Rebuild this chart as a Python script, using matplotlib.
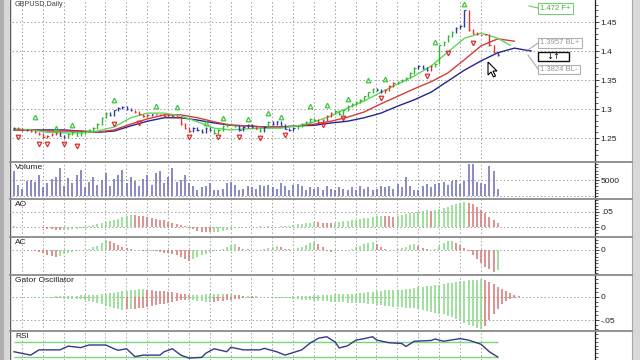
import numpy as np
import matplotlib
matplotlib.use('Agg')
import matplotlib.pyplot as plt
from matplotlib.ticker import FixedLocator, FixedFormatter, MultipleLocator
from matplotlib.patches import Rectangle, Polygon
from matplotlib.lines import Line2D

plt.rcParams['font.family'] = ['Liberation Sans', 'DejaVu Sans']

# ---------------- data ----------------
close = [1.267, 1.266, 1.264, 1.264, 1.262, 1.260, 1.257, 1.252, 1.254, 1.257,
         1.259, 1.254, 1.252, 1.257, 1.260, 1.254, 1.259, 1.262, 1.264, 1.267,
         1.274, 1.285, 1.293, 1.290, 1.298, 1.302, 1.304, 1.300, 1.298, 1.295,
         1.291, 1.288, 1.290, 1.291, 1.291, 1.290, 1.288, 1.290, 1.288, 1.285,
         1.274, 1.267, 1.262, 1.267, 1.264, 1.260, 1.267, 1.264, 1.259, 1.264,
         1.271, 1.274, 1.273, 1.271, 1.264, 1.269, 1.273, 1.269, 1.266, 1.262,
         1.269, 1.278, 1.274, 1.279, 1.273, 1.266, 1.264, 1.267, 1.271, 1.274,
         1.278, 1.283, 1.281, 1.278, 1.281, 1.288, 1.293, 1.297, 1.291, 1.298,
         1.305, 1.309, 1.312, 1.316, 1.322, 1.329, 1.335, 1.333, 1.329, 1.333,
         1.340, 1.345, 1.347, 1.350, 1.354, 1.362, 1.371, 1.374, 1.371, 1.367,
         1.374, 1.378, 1.410, 1.416, 1.426, 1.433, 1.440, 1.443, 1.470, 1.436,
         1.431, 1.429, 1.428, 1.429, 1.410, 1.398, 1.393]

jaw_idx = list(range(0, 125, 4))
jaw = [1.264, 1.264, 1.264, 1.264, 1.262, 1.260, 1.262, 1.271, 1.279, 1.285,
       1.285, 1.281, 1.276, 1.272, 1.271, 1.269, 1.269, 1.271, 1.272, 1.276,
       1.279, 1.285, 1.293, 1.305, 1.316, 1.329, 1.348, 1.367, 1.383, 1.397,
       1.405, 1.400]
teeth_idx = list(range(0, 121, 4))
teeth = [1.264, 1.264, 1.262, 1.262, 1.262, 1.260, 1.264, 1.274, 1.283, 1.290,
         1.290, 1.285, 1.278, 1.272, 1.271, 1.269, 1.269, 1.271, 1.274, 1.279,
         1.286, 1.295, 1.309, 1.322, 1.335, 1.347, 1.362, 1.385, 1.409, 1.421,
         1.417]
lips_idx = list(range(0, 117, 4)) + [119]
lips = [1.266, 1.264, 1.260, 1.259, 1.259, 1.262, 1.269, 1.285, 1.293, 1.293,
        1.288, 1.278, 1.267, 1.264, 1.266, 1.267, 1.267, 1.271, 1.278, 1.288,
        1.302, 1.314, 1.329, 1.343, 1.357, 1.374, 1.398, 1.422, 1.431, 1.422,
        1.410]

frac_up_idx = [5, 10, 14, 24, 34, 39, 46, 50, 56, 61, 64, 71, 75, 80, 85, 89, 101, 108]
frac_up = [1.286, 1.267, 1.273, 1.316, 1.305, 1.304, 1.276, 1.285, 1.283, 1.293,
           1.286, 1.305, 1.307, 1.317, 1.350, 1.352, 1.416, 1.481]
frac_dn_idx = [1, 6, 8, 12, 15, 24, 30, 42, 49, 54, 59, 65, 74, 79, 88, 99, 104, 110]
frac_dn = [1.252, 1.240, 1.240, 1.240, 1.236, 1.274, 1.276, 1.252, 1.252, 1.252,
           1.250, 1.255, 1.273, 1.285, 1.319, 1.357, 1.397, 1.414]

volume = [8000, 3300, 2300, 4700, 5000, 4300, 6700, 2700, 4000, 5300,
          6000, 8700, 3000, 5700, 4000, 6700, 8300, 2700, 4300, 6000,
          3300, 5000, 7300, 3000, 5300, 6700, 8300, 4000, 6000, 4700,
          3000, 5300, 6700, 3300, 7300, 8000, 4000, 6000, 8700, 4300,
          5000, 6700, 4000, 3000, 2000, 2700, 3000, 4000, 2000, 1700,
          2300, 4000, 4300, 3300, 2000, 2300, 3000, 2700, 2300, 3300,
          3000, 3300, 2700, 2300, 4000, 3000, 2000, 3300, 3700, 3000,
          2000, 2700, 2300, 2700, 2000, 3000, 2300, 2000, 2700, 2300,
          2000, 2700, 2000, 3000, 2300, 2700, 2000, 2300, 3000, 2700,
          3000, 2300, 3700, 2700, 6000, 3000, 2000, 1700, 3000, 3700,
          2700, 3700, 4000, 4300, 3300, 4700, 5000, 3700, 4700, 10000,
          10000, 4300, 4000, 3700, 9300, 8000, 2300]

ao_milli = [2, 1, 0, 1, 1, 0, -1, -3, -6, -8,
            -9, -10, -10, -9, -8, -6, -4, -2, 3, 8,
            10, 13, 16, 20, 24, 28, 32, 36, 41, 39,
            37, 35, 33, 31, 28, 25, 22, 18, 14, 10,
            6, 2, -3, -8, -12, -15, -17, -18, -17, -15,
            -12, -9, -6, -4, -2, -1, 0, 1, 1, 2,
            1, 2, 1, 1, 2, 3, 5, 7, 9, 11,
            13, 15, 17, 16, 15, 14, 13, 15, 17, 19,
            21, 23, 25, 27, 29, 31, 33, 35, 37, 36,
            35, 34, 36, 39, 42, 45, 48, 51, 53, 55,
            52, 56, 60, 64, 68, 72, 76, 80, 82, 81,
            75, 66, 56, 45, 34, 22, 12]

ac_milli = [1, 0, 0, -1, -1, -2, -5, -9, -14, -19,
            -21, -17, -13, -9, -6, -3, -1, 0, 3, 8,
            12, 20, 30, 28, 22, 16, 10, 6, 3, 1,
            -1, -2, -3, -2, -4, -6, -8, -10, -12, -14,
            -20, -27, -33, -28, -22, -16, -11, -7, -3, -1,
            2, 8, 14, 18, 10, 4, 2, 1, 0, 1,
            3, 5, 9, 13, 8, 4, 2, 0, 5, 10,
            15, 20, 24, 18, 10, -4, -6, -3, -1, 0,
            1, 3, 8, 13, 18, 22, 24, 18, 10, 4,
            1, 0, 2, 6, 10, 14, 18, 12, 6, 2,
            0, 4, 12, 20, 26, 28, 22, 14, 6, -2,
            -15, -28, -40, -50, -58, -65, -60]

gator_up_milli = [0, 0, 0, 0, 0, 0, 1, 1, 1, 1,
                  2, 2, 3, 3, 3, 3, 4, 4, 4, 5,
                  5, 6, 7, 8, 9, 11, 13, 14, 15, 16,
                  17, 17, 16, 15, 14, 13, 12, 11, 10, 9,
                  7, 6, 5, 5, 5, 5, 6, 6, 7, 7,
                  7, 6, 6, 5, 4, 3, 3, 2, 2, 1,
                  1, 1, 1, 1, 1, 1, 1, 2, 2, 3,
                  3, 3, 4, 4, 5, 5, 5, 6, 6, 6,
                  6, 7, 7, 8, 9, 10, 11, 13, 14, 15,
                  15, 15, 16, 16, 17, 18, 19, 21, 22, 23,
                  24, 25, 27, 28, 30, 31, 33, 34, 35, 36,
                  37, 38, 39, 37, 33, 28, 22, 17, 12, 8,
                  5, 3]
gator_dn_milli = [0, 0, -1, -1, -1, -2, -2, -2, -3, -3,
                  -3, -3, -4, -4, -4, -5, -5, -6, -8, -10,
                  -13, -16, -19, -22, -25, -27, -28, -27, -27, -26,
                  -25, -24, -22, -20, -18, -16, -15, -13, -11, -9,
                  -7, -6, -6, -7, -8, -9, -10, -11, -10, -9,
                  -8, -7, -6, -5, -4, -3, -3, -2, -2, -1,
                  -1, -1, -2, -2, -2, -3, -3, -4, -5, -6,
                  -6, -7, -8, -8, -9, -9, -10, -10, -11, -11,
                  -12, -12, -13, -13, -14, -15, -16, -17, -18, -19,
                  -20, -21, -22, -22, -23, -24, -25, -27, -28, -30,
                  -32, -34, -36, -38, -41, -44, -48, -52, -56, -60,
                  -64, -68, -70, -62, -50, -38, -26, -16, -9, -5,
                  -2, -1]

rsi_idx = [0, 4, 6, 11, 13, 16, 18, 22, 24, 25, 27, 29, 31, 35, 36, 38, 40, 42,
           45, 46, 48, 51, 52, 55, 59, 60, 63, 65, 69, 71, 73, 75, 77, 78, 80,
           82, 84, 86, 87, 90, 93, 94, 96, 100, 101, 103, 107, 109, 112, 114, 116]
rsi = [44, 35, 49, 49, 59, 55, 62, 62, 52, 48, 52, 31, 35, 35, 44, 52, 35, 27,
       29, 40, 52, 44, 56, 49, 49, 53, 44, 35, 49, 67, 80, 84, 70, 54, 60,
       75, 79, 84, 75, 68, 66, 58, 72, 74, 78, 72, 79, 75, 64, 44, 30]
rsi_levels = [70, 30]

price_ticks = [1.25, 1.30, 1.35, 1.40, 1.45]
price_labels = ['1.25', '1.3', '1.35', '1.4', '1.45']

# ---------------- layout helpers ----------------
W, H = 640, 360
fig = plt.figure(figsize=(6.4, 3.6), dpi=100)
fig.patch.set_facecolor('white')

def fx(p):
    return p / W

def fy(p):
    return 1 - p / H

X0, X1 = 12, 595
BAR0, BARW = 14.0, 4.17
XL, XR = (X0 - BAR0) / BARW, (X1 - BAR0) / BARW
GRID_X = [1.92 + 5 * k for k in range(23)]
GRID_KW = dict(color='#9c9c9c', lw=0.7, ls=(0, (1.4, 2.4)), zorder=0)


def make_ax(top, bottom, ylo, yhi):
    ax = fig.add_axes([fx(X0), fy(bottom), (X1 - X0) / W, (bottom - top) / H])
    ax.set_xlim(XL, XR)
    ax.set_ylim(ylo, yhi)
    ax.set_facecolor('none')
    for s in ['top', 'left', 'bottom']:
        ax.spines[s].set_visible(False)
    ax.spines['right'].set_color('#202020')
    ax.spines['right'].set_linewidth(0.9)
    ax.tick_params(axis='x', bottom=False, labelbottom=False)
    ax.yaxis.tick_right()
    ax.tick_params(axis='y', which='major', length=3.2, width=0.6, pad=1,
                   labelsize=6, colors='#202020', direction='out')
    ax.tick_params(axis='y', which='minor', length=1.8, width=0.5,
                   colors='#202020', direction='out')
    for gx in GRID_X:
        ax.axvline(gx, **GRID_KW)
    return ax


def set_ticks(ax, ticks, labels, minor):
    ax.yaxis.set_major_locator(FixedLocator(ticks))
    ax.yaxis.set_major_formatter(FixedFormatter(labels))
    ax.yaxis.set_minor_locator(MultipleLocator(minor))
    for t in ticks:
        ax.axhline(t, **GRID_KW)


def dir_colors(vals, up='#84d884', dn='#d67474', absval=False):
    v = np.abs(vals) if absval else np.asarray(vals)
    cols = [up]
    for i in range(1, len(v)):
        cols.append(up if v[i] >= v[i - 1] else dn)
    return cols

# ---------------- main price panel ----------------
ax = make_ax(0, 162, 1.2087, 1.488)
set_ticks(ax, price_ticks, price_labels, 0.01)

c = np.array(close)
n = len(c)
ao = np.array(ao_milli[:n]) / 1000.0
ac = np.array(ac_milli[:n]) / 1000.0
bar_cols = []
for i in range(n):
    if i == 0:
        bar_cols.append('#2a3c9c')
        continue
    aup = ao[i] > ao[i - 1]
    cup = ac[i] > ac[i - 1]
    if aup and cup:
        bar_cols.append('#2db82d')
    elif (not aup) and (not cup):
        bar_cols.append('#e03434')
    else:
        bar_cols.append('#2a3c9c')
op = np.concatenate([[c[0]], c[:-1]])
lo = np.minimum(op, c) - 0.0012
hi = np.maximum(op, c) + 0.0012
xi = np.arange(n)
ax.vlines(xi, lo, hi, colors=bar_cols, lw=1.0, zorder=3)
ax.hlines(c, xi, xi + 0.35, colors=bar_cols, lw=0.8, zorder=3)

ax.plot(jaw_idx, jaw, color='#25258e', lw=1.0, zorder=2)
ax.plot(teeth_idx, teeth, color='#d83a3a', lw=1.0, zorder=2)
ax.plot(lips_idx, lips, color='#5fd65f', lw=1.0, zorder=2)

ax.plot(frac_up_idx, frac_up, ls='none', marker='^', ms=3.3, mfc='none',
        mec='#3cc83c', mew=0.9, zorder=4)
ax.plot(frac_dn_idx, frac_dn, ls='none', marker='v', ms=3.3, mfc='none',
        mec='#d83030', mew=0.9, zorder=4)

# ---------------- volume ----------------
axv = make_ax(162, 199, -1000, 10700)
set_ticks(axv, [5000], ['5000'], 1000)
axv.axhline(0, **GRID_KW)
vol = np.array(volume)
axv.vlines(np.arange(len(vol)), 0, vol, colors='#6b6bb5', lw=1.1, zorder=3)

# ---------------- AO ----------------
axa = make_ax(199, 237, -0.0333, 0.0933)
set_ticks(axa, [0.0, 0.05], ['0', '.05'], 0.01)
aoall = np.array(ao_milli) / 1000.0
axa.vlines(np.arange(len(aoall)), 0, aoall, colors=dir_colors(aoall), lw=1.1, zorder=3)

# ---------------- AC ----------------
axc = make_ax(237, 275, -0.075, 0.039)
set_ticks(axc, [0.0], ['0'], 0.01)
acall = np.array(ac_milli) / 1000.0
axc.vlines(np.arange(len(acall)), 0, acall, colors=dir_colors(acall), lw=1.1, zorder=3)

# ---------------- Gator ----------------
axg = make_ax(275, 331, -0.0739, 0.0478)
set_ticks(axg, [0.0, -0.05], ['0', '-.05'], 0.01)
gu = np.array(gator_up_milli) / 1000.0
gd = np.array(gator_dn_milli) / 1000.0
axg.vlines(np.arange(len(gu)), 0, gu, colors=dir_colors(gu, absval=True), lw=1.1, zorder=3)
axg.vlines(np.arange(len(gd)), gd, 0, colors=dir_colors(gd, absval=True), lw=1.1, zorder=3)

# ---------------- RSI ----------------
axr = make_ax(331, 360, 22, 99.3)
axr.yaxis.set_major_locator(FixedLocator([]))
axr.yaxis.set_minor_locator(MultipleLocator(10))
for lev in rsi_levels:
    axr.hlines(lev, 0, n - 1, color='#7ad67a', lw=1.0, zorder=2)
axr.plot(rsi_idx, rsi, color='#38388c', lw=1.0, zorder=3)

# ---------------- panel titles ----------------
for label, top in [('Volume', 164), ('AO', 201), ('AC', 239),
                   ('Gator Oscillator', 277), ('RSI', 333)]:
    fig.text(fx(15), fy(top), label, fontsize=6, va='top', ha='left', color='#202020')

# chart title at the very top
fig.text(fx(15), fy(1.0), 'GBPUSD,Daily', fontsize=5.2, va='top', ha='left', color='#404040')

# ---------------- window frame & separators ----------------
def frect(x0, y0, x1, y1, **kw):
    fig.add_artist(Rectangle((fx(x0), fy(y1)), (x1 - x0) / W, (y1 - y0) / H,
                             transform=fig.transFigure, **kw))

def fline(x0, y0, x1, y1, **kw):
    fig.add_artist(Line2D([fx(x0), fx(x1)], [fy(y0), fy(y1)], transform=fig.transFigure, **kw))

frect(0, 0, 4, 360, facecolor='#aeaeae', edgecolor='none')
frect(4, 0, 9, 360, facecolor='#d6d6d6', edgecolor='none')
fline(9.5, 0, 9.5, 360, color='#5a5a5a', lw=1.0)
frect(632, 0, 640, 360, facecolor='#d9d9d9', edgecolor='none')
fline(632, 0, 632, 360, color='#a8a8a8', lw=0.8)
for ysep in [162, 199, 237, 275, 331]:
    fline(10, ysep, 632, ysep, color='#8a8a8a', lw=1.3)

# ---------------- right-side labels ----------------
fline(529, 6, 538, 8, color='#66cc66', lw=0.8)
frect(538, 3, 573, 14, facecolor='white', edgecolor='#77cc77', lw=0.8)
fig.text(fx(555.5), fy(8.5), '1.472 F+', fontsize=5.5, color='#44aa44', ha='center', va='center')

fline(528, 50, 538, 43, color='#aaaaaa', lw=0.8)
fline(528, 55, 538, 69, color='#aaaaaa', lw=0.8)
frect(538, 38, 582, 48, facecolor='white', edgecolor='#b0b0b0', lw=0.8)
fig.text(fx(560), fy(43), '1.3957 BL+', fontsize=5.5, color='#999999', ha='center', va='center')
frect(538, 52, 569, 61, facecolor='white', edgecolor='#111111', lw=1.0)
fig.text(fx(553.5), fy(56.5), '↓↑', fontsize=6, color='#111111', ha='center', va='center',
         family=['DejaVu Sans'])
frect(538, 65, 580, 74, facecolor='white', edgecolor='#b0b0b0', lw=0.8)
fig.text(fx(559), fy(69.5), '1.3824 BL-', fontsize=5.5, color='#999999', ha='center', va='center')

# mouse cursor
tipx, tipy = 488, 62
cur = [(0, 0), (0, 13), (3, 10), (5.5, 15), (7.5, 14), (5, 9), (9, 9)]
fig.add_artist(Polygon([(fx(tipx + a), fy(tipy + b)) for a, b in cur], closed=True,
                       transform=fig.transFigure, facecolor='white', edgecolor='black',
                       lw=0.8, zorder=10))

fig.savefig('out.png', dpi=100)
